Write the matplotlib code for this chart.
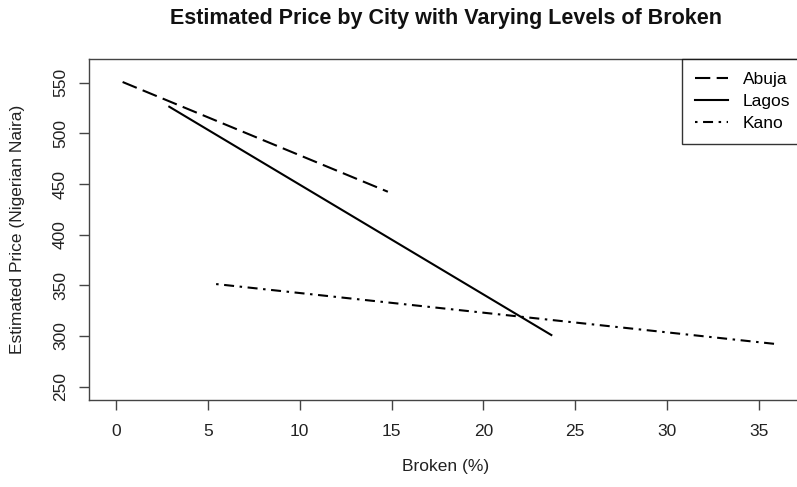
import matplotlib
matplotlib.use("Agg")
import matplotlib.pyplot as plt

plt.rcParams['font.family'] = ['Liberation Sans', 'DejaVu Sans']
plt.rcParams['lines.scale_dashes'] = False

cities = ["Abuja", "Lagos", "Kano"]
abuja_x = [0.36, 14.8]
abuja_y = [550.7, 442.4]
lagos_x = [2.9, 23.7]
lagos_y = [526.3, 301.0]
kano_x = [5.45, 35.95]
kano_y = [351.3, 292.1]
x_ticks = [0, 5, 10, 15, 20, 25, 30, 35]
y_ticks = [250, 300, 350, 400, 450, 500, 550]

fig = plt.figure(figsize=(7.97, 4.87), dpi=100)
ax = fig.add_axes([89/797, 1-400/487, (803-89)/797, (400-59.3)/487])

lw = 1.5
ax.plot(abuja_x, abuja_y, color='black', lw=lw, dashes=(11.0, 4.6), label=cities[0])
ax.plot(lagos_x, lagos_y, color='black', lw=lw, label=cities[1])
ax.plot(kano_x, kano_y, color='black', lw=lw, dashes=(1.8, 4.0, 7.2, 4.0), label=cities[2])

ax.set_xlim(-1.47, 37.4)
ax.set_ylim(236.9, 573.1)
ax.set_xticks(x_ticks)
ax.set_yticks(y_ticks)
ax.set_yticklabels([str(v) for v in y_ticks], rotation=90, va='center')

for s in ax.spines.values():
    s.set_color('#444444')
    s.set_linewidth(1.0)
ax.tick_params(axis='both', length=7.2, width=1.0, color='#444444', labelsize=12.5,
               labelcolor='#222222')
ax.tick_params(axis='x', pad=10)
ax.tick_params(axis='y', pad=8)

fig.text(446/797, 1-24/487, "Estimated Price by City with Varying Levels of Broken",
         ha='center', va='baseline', fontsize=15.5, fontweight='bold', color='#111111')
fig.text(446/797, 1-466/487, "Broken (%)", ha='center', va='center', fontsize=12.5,
         color='#222222')
fig.text(18/797, 1-229.5/487, "Estimated Price (Nigerian Naira)", ha='center', va='center',
         rotation=90, fontsize=12.5, color='#222222')

leg = ax.legend(loc='upper right', bbox_to_anchor=(1.0, 1.0), borderaxespad=0,
                fancybox=False, frameon=True, fontsize=12.5, handlelength=1.9,
                handletextpad=0.85, labelspacing=0.38, borderpad=0.75)
leg.get_frame().set_edgecolor('black')
leg.get_frame().set_linewidth(1.0)

fig.savefig("out.png", dpi=100)
